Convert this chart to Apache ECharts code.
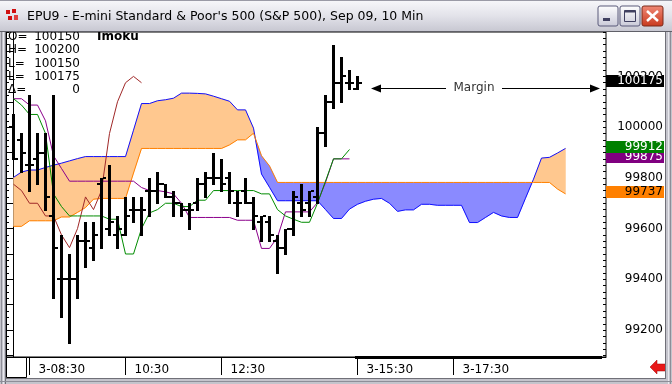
<!DOCTYPE html>
<html><head><meta charset="utf-8">
<script src="https://cdn.jsdelivr.net/npm/echarts@6/dist/echarts.min.js"></script>
<style>html,body{margin:0;padding:0;background:#fff;overflow:hidden}#c{width:672px;height:384px}</style>
</head><body><div id="c"></div>
<script>
// ---------- DATA ----------
const barOpen  = [100000,99950,99850,99875,99900,99650,99400,99400,99400,99550,99525,99775,99600,99575,99575,99675,99675,99750,99750,99775,99725,99700,99675,99700,99775,99800,99800,99800,99700,99750,99700,99625,99625,99550,99525,99600,99700,99700,99725,99975,100100,100175,100175,100150];
const barHigh  = [100050,99975,100125,99975,99975,100125,99575,99500,99575,99625,99625,99800,99850,99650,99725,99725,99725,99800,99825,99775,99750,99700,99700,99800,99825,99900,99875,99825,99750,99800,99725,99650,99650,99575,99600,99750,99775,99750,100000,100125,100325,100275,100225,100200];
const barLow   = [99875,99825,99750,99775,99675,99325,99250,99150,99325,99450,99475,99525,99575,99525,99575,99625,99575,99650,99700,99725,99650,99650,99600,99675,99725,99775,99750,99700,99650,99700,99600,99550,99550,99425,99500,99575,99650,99650,99700,99925,100075,100100,100150,100150];
const barClose = [99875,99900,99850,99900,99725,99525,99400,99400,99550,99550,99575,99800,99625,99600,99650,99675,99675,99750,99775,99725,99700,99675,99675,99775,99800,99800,99775,99750,99700,99700,99650,99650,99575,99525,99600,99725,99675,99750,99975,100100,100175,100200,100175,100175];

const purpleLine = [100112,100112,100087,100087,100025,99887,99837,99787,99787,99787,99787,99787,99787,99787,99787,99787,99762,99750,99750,99745,99737,99700,99644,99644,99644,99644,99644,99644,99633,99633,99633,99522,99522,99566,99666,99666,99666,99666,99703,99782,99875,99875,99875];
const greenLine  = [100112,100087,100050,100050,99975,99737,99687,99650,99650,99650,99650,99650,99637,99637,99500,99500,99600,99662,99675,99700,99700,99687,99687,99712,99712,99750,99750,99750,99750,99750,99750,99737,99737,99675,99650,99637,99625,99625,99700,99787,99875,99875,99912];
const brownLine  = [99775,99750,99700,99700,99650,99650,99575,99525,99600,99725,99675,99750,99975,100100,100175,100200,100175];
const blueLine   = [99802,99823,99831,99831,99841,99850,99858,99867,99876,99884,99884,99884,99884,99884,99884,99988,100093,100093,100104,100108,100114,100134,100134,100133,100131,100122,100112,100102,100068,100068,99996,99815,99763,99710,99710,99710,99710,99710,99710,99675,99640,99640,99677,99696,99708,99716,99719,99700,99668,99674,99674,99696,99696,99692,99692,99692,99692,99624,99624,99644,99664,99650,99644,99644,99720,99795,99878,99881,99898,99916];
const orangeLine = [99609,99609,99631,99631,99631,99631,99646,99646,99664,99683,99716,99719,99719,99719,99719,99819,99916,99916,99916,99916,99916,99916,99916,99916,99916,99916,99916,99930,99950,99950,99976,99887,99847,99782,99782,99782,99782,99782,99782,99782,99782,99782,99782,99782,99782,99782,99782,99782,99782,99782,99782,99782,99782,99782,99782,99782,99782,99782,99782,99782,99782,99782,99782,99782,99782,99782,99782,99782,99756,99737];

const xTickIndex  = [2,14,26,43,55];
const xTickLabels = ['3-08:30','10:30','12:30','3-15:30','3-17:30'];
const yLabelValues = [99200,99400,99600,99800,100000,100200];

const boxValues = [100175,99875,99912,99737];
const boxBg = ['#000000','#800080','#008000','#FF8000'];
const boxFg = ['#FFFFFF','#FFFFFF','#FFFFFF','#000000'];

const infoKeys = ['O=','H=','L=','L=','\u0394='];
const infoVals = ['100150','100200','100150','100175','0'];
const titleText = "EPU9 - E-mini Standard & Poor's 500 (S&P 500), Sep 09, 10 Min";

// ---------- LAYOUT ----------
const X_MIN = -0.9375, X_MAX = 74.0625;
const Y_MIN = 99094, Y_MAX = 100375;
const FONT = '"DejaVu Sans", sans-serif';
const ORANGE_FILL = '#FFC88F', BLUE_FILL = '#8A8AFF';

const minorTicks = []; for (let v = 99100; v <= Y_MAX; v += 25) minorTicks.push(v);
const majorTicks = []; for (let v = 99100; v <= Y_MAX; v += 100) majorTicks.push(v);

function yAx(pos, ticks, len, showLine, withLabels) {
  return {
    type: 'value', position: pos, min: Y_MIN, max: Y_MAX,
    axisLine: {show: showLine, lineStyle: {color: '#000', width: 1}},
    axisTick: {show: true, inside: true, length: len, customValues: ticks, lineStyle: {color: '#000', width: 1}},
    axisLabel: withLabels ? {
      show: true, customValues: yLabelValues, formatter: v => String(Math.round(v)), align: 'right', margin: 57,
      verticalAlign: 'middle', padding: [0, 0, 8, 0], color: '#000', fontFamily: FONT, fontSize: 12
    } : {show: false},
    splitLine: {show: false}
  };
}

const chart = echarts.init(document.getElementById('c'), null, {renderer: 'canvas', width: 672, height: 384});

function cloudItem(params, api) {
  const children = [];
  const n = blueLine.length;
  let cur = null;
  const pt = (x, v) => api.coord([x, v]);
  const flush = () => {
    if (cur) children.push({type: 'polygon', shape: {points: cur.a.concat(cur.b.slice().reverse())},
      style: {fill: cur.sign > 0 ? ORANGE_FILL : BLUE_FILL, stroke: cur.sign > 0 ? ORANGE_FILL : BLUE_FILL, lineWidth: 0.5}});
  };
  for (let i = 0; i < n; i++) {
    const d = blueLine[i] - orangeLine[i];
    const s = d >= 0 ? 1 : -1;
    if (!cur) { cur = {sign: s, a: [pt(i, blueLine[i])], b: [pt(i, orangeLine[i])]}; continue; }
    if (s !== cur.sign && d !== 0) {
      const d0 = blueLine[i - 1] - orangeLine[i - 1];
      const t = d0 / (d0 - d);
      const xc = i - 1 + t, yc = blueLine[i - 1] + t * (blueLine[i] - blueLine[i - 1]);
      const pc = pt(xc, yc);
      cur.a.push(pc); cur.b.push(pc);
      flush();
      cur = {sign: s, a: [pc, pt(i, blueLine[i])], b: [pc, pt(i, orangeLine[i])]};
    } else {
      cur.a.push(pt(i, blueLine[i])); cur.b.push(pt(i, orangeLine[i]));
    }
  }
  flush();
  return {type: 'group', children};
}

function barItem(params, api) {
  const i = api.value(0);
  const ph = api.coord([i, api.value(2)]), pl = api.coord([i, api.value(3)]);
  const po = api.coord([i, api.value(1)]), pc = api.coord([i, api.value(4)]);
  const cx = Math.floor(ph[0]);
  const top = Math.round(ph[1]), bot = Math.round(pl[1]);
  const oy = Math.round(po[1]), cy = Math.round(pc[1]);
  return {type: 'group', children: [
    {type: 'rect', shape: {x: cx - 1, y: top, width: 3, height: Math.max(1, bot - top + 1)}, style: {fill: '#000'}},
    {type: 'rect', shape: {x: cx - 4, y: oy - 1, width: 3, height: 2}, style: {fill: '#000'}},
    {type: 'rect', shape: {x: cx + 2, y: cy - 1, width: 3, height: 2}, style: {fill: '#000'}}
  ]};
}

function boxItem(params, api) {
  const idx = params.dataIndex;
  const p = api.coord([api.value(0), api.value(1)]);
  const x = Math.round(p[0]), y = Math.round(p[1]);
  return {type: 'group', children: [
    {type: 'rect', shape: {x: x, y: y - 8, width: 58, height: 12}, style: {fill: boxBg[idx]}},
    {type: 'text', style: {text: String(boxValues[idx]), x: x + 57, y: y - 2, align: 'right', verticalAlign: 'middle',
      fill: boxFg[idx], font: '12px ' + FONT}}
  ]};
}

const lineSeries = (arr, color, z) => ({
  type: 'line', data: arr.map((v, i) => [i, v]), showSymbol: false, symbol: 'none',
  lineStyle: {color, width: 1}, z, animation: false, silent: true, clip: true
});

const graphics = [];
// title bar
graphics.push({type: 'rect', shape: {x: 0, y: 0, width: 672, height: 31}, z: 10,
  style: {fill: new echarts.graphic.LinearGradient(0, 0, 0, 1, [{offset: 0, color: '#F7F7FA'}, {offset: 0.5, color: '#E3E3EA'}, {offset: 1, color: '#C8C8D2'}])}});
graphics.push({type: 'rect', shape: {x: 0, y: 0, width: 672, height: 1}, z: 11, style: {fill: '#9A9AA6'}});
// icon
graphics.push({type: 'rect', shape: {x: 6, y: 10, width: 4, height: 4}, z: 11, style: {fill: '#D01010'}});
graphics.push({type: 'rect', shape: {x: 12, y: 9, width: 4, height: 4}, z: 11, style: {fill: '#D01010'}});
graphics.push({type: 'rect', shape: {x: 8, y: 16, width: 4, height: 4}, z: 11, style: {fill: '#D01010'}});
graphics.push({type: 'rect', shape: {x: 14, y: 15, width: 4, height: 5}, z: 11, style: {fill: '#E04040'}});
graphics.push({type: 'text', z: 11, style: {text: titleText, x: 27, y: 17, verticalAlign: 'middle', font: '12.5px ' + FONT, fill: '#000'}});
// buttons
[598, 620].forEach(bx => {
  graphics.push({type: 'rect', shape: {x: bx, y: 6, width: 20, height: 20, r: 2}, z: 11,
    style: {fill: new echarts.graphic.LinearGradient(0, 0, 0, 1, [{offset: 0, color: '#FFFFFF'}, {offset: 1, color: '#C9C9D8'}]), stroke: '#5A5A7A', lineWidth: 1}});
});
graphics.push({type: 'rect', shape: {x: 603, y: 18, width: 7, height: 3}, z: 12, style: {fill: '#404060'}});
graphics.push({type: 'rect', shape: {x: 624.5, y: 10.5, width: 11, height: 11}, z: 12, style: {fill: 'none', stroke: '#404060', lineWidth: 1}});
graphics.push({type: 'rect', shape: {x: 624.5, y: 10.5, width: 11, height: 2}, z: 12, style: {fill: '#404060'}});
graphics.push({type: 'rect', shape: {x: 642, y: 6, width: 21, height: 20, r: 2}, z: 11,
  style: {fill: new echarts.graphic.LinearGradient(0, 0, 0, 1, [{offset: 0, color: '#F08A78'}, {offset: 1, color: '#C8381C'}]), stroke: '#7A2A1A', lineWidth: 1}});
graphics.push({type: 'polyline', shape: {points: [[647, 11], [658, 21]]}, z: 12, style: {stroke: '#fff', lineWidth: 2.5}});
graphics.push({type: 'polyline', shape: {points: [[658, 11], [647, 21]]}, z: 12, style: {stroke: '#fff', lineWidth: 2.5}});
// window frame
graphics.push({type: 'rect', shape: {x: 0, y: 31, width: 6, height: 353}, z: 10, style: {fill: '#C4C4CC'}});
graphics.push({type: 'rect', shape: {x: 1, y: 31, width: 1, height: 353}, z: 11, style: {fill: '#8E8E98'}});
graphics.push({type: 'rect', shape: {x: 3, y: 31, width: 1, height: 353}, z: 11, style: {fill: '#E8E8EE'}});
graphics.push({type: 'rect', shape: {x: 5, y: 31, width: 1, height: 353}, z: 11, style: {fill: '#707078'}});
graphics.push({type: 'rect', shape: {x: 665, y: 31, width: 7, height: 353}, z: 10, style: {fill: '#C4C4CC'}});
graphics.push({type: 'rect', shape: {x: 665, y: 31, width: 1, height: 348}, z: 11, style: {fill: '#707078'}});
graphics.push({type: 'rect', shape: {x: 668, y: 31, width: 1, height: 353}, z: 11, style: {fill: '#E8E8EE'}});
graphics.push({type: 'rect', shape: {x: 670, y: 31, width: 1, height: 353}, z: 11, style: {fill: '#8E8E98'}});
graphics.push({type: 'rect', shape: {x: 0, y: 378, width: 672, height: 6}, z: 10, style: {fill: '#C4C4CC'}});
graphics.push({type: 'rect', shape: {x: 5, y: 378, width: 661, height: 1}, z: 11, style: {fill: '#707078'}});
graphics.push({type: 'rect', shape: {x: 0, y: 381, width: 672, height: 1}, z: 11, style: {fill: '#8E8E98'}});
graphics.push({type: 'rect', shape: {x: 0, y: 31, width: 672, height: 1}, z: 11, style: {fill: '#606068'}});
// info text
infoKeys.forEach((k, r) => {
  graphics.push({type: 'text', z: 5, style: {text: k, x: 8, y: 37 + r * 13.3, verticalAlign: 'middle', font: '12px ' + FONT, fill: '#000'}});
  graphics.push({type: 'text', z: 5, style: {text: infoVals[r], x: 80, y: 37 + r * 13.3, align: 'right', verticalAlign: 'middle', font: '12px ' + FONT, fill: '#000'}});
});
graphics.push({type: 'text', z: 5, style: {text: 'Imoku', x: 97, y: 37, verticalAlign: 'middle', font: 'bold 12px ' + FONT, fill: '#000'}});
// margin annotation
graphics.push({type: 'line', z: 5, shape: {x1: 378, y1: 88.5, x2: 446, y2: 88.5}, style: {stroke: '#000', lineWidth: 1}});
graphics.push({type: 'line', z: 5, shape: {x1: 502, y1: 88.5, x2: 593, y2: 88.5}, style: {stroke: '#000', lineWidth: 1}});
graphics.push({type: 'polygon', z: 5, shape: {points: [[371, 88.5], [381, 84.5], [381, 92.5]]}, style: {fill: '#000'}});
graphics.push({type: 'polygon', z: 5, shape: {points: [[600, 88.5], [590, 84.5], [590, 92.5]]}, style: {fill: '#000'}});
graphics.push({type: 'text', z: 5, style: {text: 'Margin', x: 474, y: 88, align: 'center', verticalAlign: 'middle', font: '12px ' + FONT, fill: '#333'}});
// bottom-left box, margin bar, red arrow
graphics.push({type: 'rect', z: 5, shape: {x: 6.5, y: 357.5, width: 20, height: 20}, style: {fill: '#fff', stroke: '#000', lineWidth: 1}});
graphics.push({type: 'rect', z: 5, shape: {x: 355, y: 356, width: 247, height: 3}, style: {fill: '#000'}});
graphics.push({type: 'polygon', z: 5, shape: {points: [[650, 367], [657, 360], [657, 364], [667, 364], [667, 371], [657, 371], [657, 374]]}, style: {fill: '#E81818', stroke: '#A00000', lineWidth: 0.5}});

chart.setOption({
  animation: false,
  backgroundColor: '#FFFFFF',
  grid: {left: 6, top: 32, width: 600, height: 325, show: true, borderColor: '#000', borderWidth: 1, backgroundColor: '#FFFFFF'},
  xAxis: {
    type: 'value', min: X_MIN, max: X_MAX,
    axisLine: {show: true, lineStyle: {color: '#000'}},
    axisTick: {show: true, inside: false, length: 18, customValues: xTickIndex, lineStyle: {color: '#000'}},
    axisLabel: {show: true, customValues: xTickIndex, formatter: v => xTickLabels[xTickIndex.indexOf(Math.round(v))] || '',
      align: 'left', padding: [0, 0, 0, 9], margin: 7, lineHeight: 12, color: '#000', fontFamily: FONT, fontSize: 12},
    splitLine: {show: false}
  },
  yAxis: [
    yAx('right', majorTicks, 5, true, true),
    yAx('right', minorTicks, 3, false, false),
    yAx('left', majorTicks, 5, true, false),
    yAx('left', minorTicks, 3, false, false)
  ],
  graphic: graphics,
  series: [
    {type: 'custom', renderItem: cloudItem, data: [[0, blueLine[0]]], z: 1, silent: true, animation: false},
    lineSeries(blueLine, '#1010FF', 2),
    lineSeries(orangeLine, '#FF8000', 2),
    lineSeries(brownLine, '#A02828', 3),
    lineSeries(purpleLine, '#8B008B', 3),
    lineSeries(greenLine, '#008C00', 3),
    {type: 'custom', renderItem: barItem, z: 4, silent: true, animation: false,
      data: barOpen.map((o, i) => [i, o, barHigh[i], barLow[i], barClose[i]])},
    {type: 'custom', renderItem: boxItem, z: 6, silent: true, animation: false, clip: false,
      data: boxValues.map(v => [X_MAX, v])}
  ]
});
</script></body></html>
